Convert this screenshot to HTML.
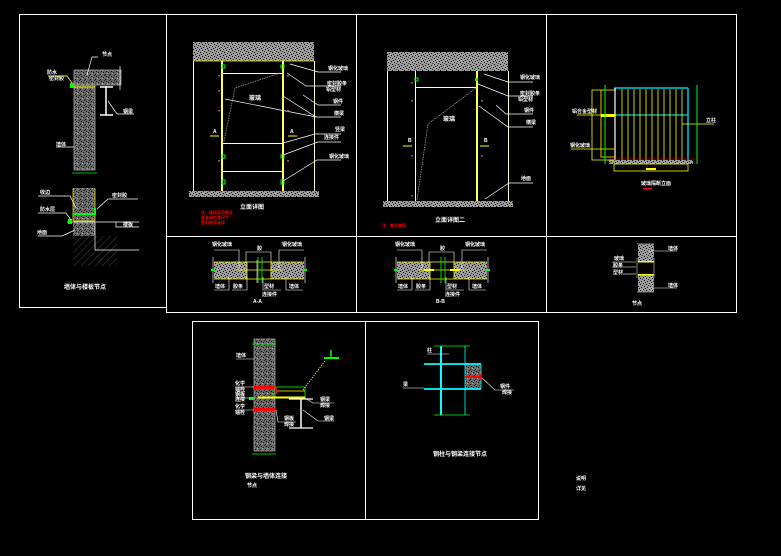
<!DOCTYPE html>
<html><head><meta charset="utf-8"><style>
html,body{margin:0;padding:0;background:#000;}
svg{display:block}
text{font-family:"Liberation Sans","Noto Sans CJK SC",sans-serif;fill:#fff;font-size:5px;font-weight:bold}
</style></head><body>
<svg width="781" height="556" viewBox="0 0 781 556" xmlns="http://www.w3.org/2000/svg">
<defs>
<pattern id="conc" width="6" height="6" patternUnits="userSpaceOnUse">
<rect width="6" height="6" fill="#9a9a9a"/>
<rect x="1" y="1" width="1" height="1" fill="#000"/><rect x="4" y="2" width="1" height="1" fill="#000"/>
<rect x="2" y="4" width="1" height="1" fill="#000"/><rect x="5" y="5" width="1" height="1" fill="#222"/>
<rect x="0" y="3" width="1" height="1" fill="#333"/><rect x="3" y="0" width="1" height="1" fill="#111"/>
</pattern>
<pattern id="dconc" width="5" height="5" patternUnits="userSpaceOnUse">
<rect width="5" height="5" fill="#666"/>
<rect x="1" y="1" width="1" height="1" fill="#000"/><rect x="3" y="2" width="1" height="1" fill="#111"/>
<rect x="0" y="4" width="1" height="1" fill="#000"/><rect x="4" y="0" width="1" height="1" fill="#222"/>
<rect x="2" y="3" width="1" height="1" fill="#aaa"/>
</pattern>
<pattern id="hatch" width="5" height="5" patternUnits="userSpaceOnUse" patternTransform="rotate(45)">
<rect width="5" height="5" fill="#000"/><line x1="0" y1="0" x2="0" y2="5" stroke="#666" stroke-width="0.7"/>
</pattern>
</defs>
<rect width="781" height="556" fill="#000"/>

<!-- panel borders -->
<g fill="none" stroke="#fff" stroke-width="1">
<rect x="19.5" y="14.5" width="147" height="293"/>
<rect x="166.5" y="14.5" width="570" height="222"/>
<line x1="356.5" y1="14" x2="356.5" y2="312"/>
<line x1="546.5" y1="14" x2="546.5" y2="312"/>
<rect x="166.5" y="236.5" width="570" height="76"/>
<rect x="192.5" y="321.5" width="346" height="198"/>
<line x1="365.5" y1="321" x2="365.5" y2="519"/>
</g>

<!-- Panel A -->
<rect x="74" y="70" width="47" height="15" fill="url(#dconc)" stroke="#bbb" stroke-width="0.7"/>
<rect x="74" y="85" width="21" height="85" fill="url(#dconc)" stroke="#bbb" stroke-width="0.7"/>
<line x1="74" y1="87" x2="95" y2="87" stroke="#ff0" stroke-width="1"/>
<line x1="48" y1="76" x2="67" y2="76" stroke="#ff0" stroke-width="1"/>
<polyline points="67,76 72,83 73,88" fill="none" stroke="#ff0" stroke-width="0.8"/>
<rect x="70" y="83" width="4" height="5" fill="#0f0"/>
<line x1="120" y1="66" x2="120" y2="90" stroke="#fff" stroke-width="0.7"/>
<line x1="106" y1="86" x2="106" y2="115" stroke="#fff" stroke-width="1.5"/>
<line x1="100" y1="115" x2="113" y2="115" stroke="#fff" stroke-width="1.5"/>
<line x1="100" y1="87" x2="113" y2="87" stroke="#fff" stroke-width="1.5"/>
<polyline points="98,57 92,57 87,75" fill="none" stroke="#fff" stroke-width="0.7"/>
<polyline points="108,101 117,114 134,114" fill="none" stroke="#fff" stroke-width="0.7"/>
<line x1="56" y1="147" x2="74" y2="147" stroke="#fff" stroke-width="0.7"/>
<line x1="72" y1="173" x2="97" y2="173" stroke="#0f0" stroke-width="0.8"/>
<text x="102" y="56">节点</text><text x="47" y="74">防水</text><text x="49" y="80">密封胶</text>
<text x="123" y="113">钢梁</text><text x="56" y="146">墙体</text>
<rect x="73" y="188" width="22" height="78" fill="url(#dconc)"/>
<rect x="73" y="236" width="22" height="30" fill="url(#hatch)"/>
<rect x="95" y="236" width="22" height="30" fill="url(#hatch)"/>
<line x1="73" y1="188" x2="73" y2="221" stroke="#ff0" stroke-width="0.7"/>
<line x1="95" y1="188" x2="95" y2="221" stroke="#ff0" stroke-width="0.7"/>
<polyline points="73,216 74,214 95,214 95,208" fill="none" stroke="#0f0" stroke-width="2"/>
<line x1="67" y1="222" x2="139" y2="222" stroke="#fff" stroke-width="0.7"/>
<line x1="74" y1="221" x2="95" y2="221" stroke="#ff0" stroke-width="0.7"/>
<polyline points="116,222 116,227 139,227" fill="none" stroke="#fff" stroke-width="0.7"/>
<polyline points="95,222 95,250 139,250" fill="none" stroke="#fff" stroke-width="0.7"/>
<rect x="68" y="219" width="4" height="5" fill="#0f0"/>
<polyline points="38,196 70,196 76,208" fill="none" stroke="#fff" stroke-width="0.7"/>
<polyline points="38,213 66,213 71,220" fill="none" stroke="#fff" stroke-width="0.7"/>
<polyline points="38,236 62,236 75,230" fill="none" stroke="#fff" stroke-width="0.7"/>
<polyline points="138,199 108,199 97,209" fill="none" stroke="#fff" stroke-width="0.7"/>
<text x="40" y="194">收边</text><text x="40" y="211">防水层</text><text x="37" y="234">地面</text>
<text x="112" y="197">密封胶</text><text x="123" y="226">楼板</text>
<text x="64" y="289" style="font-size:6px">墙体与楼板节点</text>

<!-- Panel 1 -->
<rect x="193" y="42" width="121" height="19" fill="url(#conc)"/>
<line x1="193" y1="61" x2="314" y2="61" stroke="#ff0" stroke-width="0.7"/>
<g stroke="#ffc" stroke-width="1"><line x1="193.5" y1="61" x2="193.5" y2="191"/><line x1="314.5" y1="61" x2="314.5" y2="191"/></g>
<g stroke="#ff6" stroke-width="2"><line x1="222" y1="61" x2="222" y2="191"/><line x1="283" y1="61" x2="283" y2="191"/></g>
<g stroke="#ffc" stroke-width="1"><line x1="222" y1="73.5" x2="283" y2="73.5"/><line x1="222" y1="143.5" x2="283" y2="143.5"/><line x1="222" y1="171.5" x2="283" y2="171.5"/></g>
<rect x="189" y="191" width="130" height="6" fill="url(#conc)"/>
<polyline points="224,141 235,88 280,73" fill="none" stroke="#999" stroke-width="0.8" stroke-dasharray="1.5,1"/>
<g fill="none" stroke="#0f0" stroke-width="1"><rect x="222" y="65" width="3" height="3"/><rect x="281" y="65" width="3" height="3"/><rect x="222" y="155" width="3" height="3"/><rect x="281" y="155" width="3" height="3"/><rect x="222" y="180" width="3" height="4"/><rect x="281" y="180" width="3" height="4"/></g>
<g stroke="#fff" stroke-width="0.7" fill="none">
<polyline points="290,64 318,72 341,72"/><polyline points="287,73 306,86 341,86"/><polyline points="303,95 318,105 341,105"/>
<polyline points="283,96 316,117 341,117"/><polyline points="225,99 316,117"/><polyline points="283,143 315,134 341,134"/>
<polyline points="283,155 318,142 341,142"/><polyline points="283,181 317,160 341,160"/>
</g>
<text x="328" y="70">钢化玻璃</text><text x="327" y="85">密封胶条</text><text x="326" y="91">铝型材</text><text x="333" y="103">钢件</text>
<text x="334" y="115">横梁</text><text x="335" y="131">竖梁</text><text x="324" y="139">连接件</text><text x="329" y="158">钢化玻璃</text>
<text x="249" y="100" style="font-size:6px">玻璃</text>
<line x1="210" y1="136" x2="219" y2="136" stroke="#ff0" stroke-width="1"/><line x1="288" y1="136" x2="297" y2="136" stroke="#ff0" stroke-width="1"/>
<text x="213" y="133">A</text><text x="290" y="133">A</text>
<text x="240" y="209" style="font-size:6px">立面详图</text>
<text x="201" y="214" style="fill:#f00;font-size:4px">注：玻璃采用钢化</text>
<text x="201" y="219" style="fill:#f00;font-size:4px">安装前检查尺寸</text>
<text x="201" y="224" style="fill:#f00;font-size:4px">密封胶须连续</text>
<g fill="#a05080"><rect x="218" y="75" width="2" height="1.5"/><rect x="218" y="90" width="2" height="1.5"/><rect x="218" y="110" width="2" height="1.5"/><rect x="218" y="160" width="2" height="1.5"/><rect x="287" y="75" width="2" height="1.5"/><rect x="287" y="110" width="2" height="1.5"/><rect x="287" y="160" width="2" height="1.5"/></g>

<!-- Panel 2 -->
<rect x="387" y="52" width="121" height="19" fill="url(#conc)"/>
<g stroke="#ffc" stroke-width="1"><line x1="387.5" y1="71" x2="387.5" y2="201"/><line x1="508.5" y1="71" x2="508.5" y2="201"/><line x1="415.5" y1="71" x2="415.5" y2="201"/><line x1="415" y1="87.5" x2="477" y2="87.5"/></g>
<line x1="477" y1="71" x2="477" y2="201" stroke="#ff6" stroke-width="2"/>
<rect x="383" y="201" width="130" height="6" fill="url(#conc)"/>
<polyline points="417,200 428,124 476,88" fill="none" stroke="#999" stroke-width="0.8" stroke-dasharray="1.5,1"/>
<rect x="415" y="78" width="3" height="3" fill="none" stroke="#0f0"/><rect x="475" y="78" width="3" height="3" fill="#0f0"/>
<g stroke="#fff" stroke-width="0.7" fill="none">
<polyline points="484,74 508,82 533,82"/><polyline points="478,84 508,96 533,96"/><polyline points="496,105 506,114 533,114"/>
<polyline points="479,106 508,127 533,127"/><polyline points="485,199 509,183 533,183"/>
</g>
<text x="520" y="79">钢化玻璃</text><text x="520" y="95">密封胶条</text><text x="518" y="101">铝型材</text><text x="524" y="112">钢件</text><text x="526" y="124">横梁</text><text x="521" y="180">地面</text>
<text x="443" y="121" style="font-size:6px">玻璃</text>
<line x1="403" y1="146" x2="412" y2="146" stroke="#ff0" stroke-width="1"/><line x1="480" y1="146" x2="489" y2="146" stroke="#ff0" stroke-width="1"/>
<text x="408" y="142">B</text><text x="484" y="142">B</text>
<text x="435" y="222" style="font-size:6px">立面详图二</text>
<text x="382" y="227" style="fill:#f00;font-size:4px">注：钢化玻璃</text>
<g fill="#a05080"><rect x="411" y="82" width="2" height="1.5"/><rect x="411" y="100" width="2" height="1.5"/><rect x="411" y="155" width="2" height="1.5"/><rect x="481" y="100" width="2" height="1.5"/><rect x="481" y="155" width="2" height="1.5"/><rect x="411" y="195" width="2" height="1.5"/></g>

<!-- Panel 4 -->
<rect x="609" y="160" width="84" height="4" fill="url(#conc)"/>
<line x1="614" y1="88" x2="688" y2="88" stroke="#0cc" stroke-width="1.5"/>
<line x1="688" y1="88" x2="688" y2="160" stroke="#0cc" stroke-width="1.5"/>
<line x1="614" y1="115" x2="688" y2="115" stroke="#0cc" stroke-width="1.2"/>
<line x1="615" y1="88" x2="615" y2="160" stroke="#fff" stroke-width="1.2"/>
<g stroke="#ff0" stroke-width="0.8">
<line x1="622" y1="89" x2="622" y2="160"/><line x1="628" y1="89" x2="628" y2="160"/><line x1="634" y1="89" x2="634" y2="160"/><line x1="640" y1="89" x2="640" y2="160"/><line x1="646" y1="89" x2="646" y2="160"/><line x1="652" y1="89" x2="652" y2="160"/><line x1="658" y1="89" x2="658" y2="160"/><line x1="664" y1="89" x2="664" y2="160"/><line x1="670" y1="89" x2="670" y2="160"/><line x1="676" y1="89" x2="676" y2="160"/><line x1="682" y1="89" x2="682" y2="160"/>
</g>
<g fill="none" stroke="#ff0" stroke-width="0.8">
<polyline points="616,90 592,90 592,160 615,160"/><polyline points="601,90 601,157 615,157"/>
<rect x="614" y="164" width="74" height="7"/>
</g>
<rect x="601" y="114" width="14" height="3" fill="#ff0"/>
<line x1="577" y1="115" x2="616" y2="115" stroke="#ff0" stroke-width="0.8"/>
<line x1="571" y1="149" x2="615" y2="149" stroke="#ff0" stroke-width="0.8"/>
<line x1="682" y1="124" x2="714" y2="124" stroke="#ff0" stroke-width="0.8"/>
<g stroke="#0f0" stroke-width="1"><line x1="605" y1="85" x2="605" y2="164"/><line x1="697" y1="85" x2="697" y2="164"/></g>
<line x1="609" y1="159" x2="697" y2="159" stroke="#f00" stroke-width="0.6"/>
<rect x="646" y="168" width="10" height="2" fill="#ff0"/>
<text x="572" y="113">铝合金型材</text><text x="570" y="147">钢化玻璃</text><text x="706" y="122">立柱</text>
<text x="641" y="185">玻璃隔断立面</text>
<rect x="643" y="188" width="9" height="1.5" fill="#f00"/>

<!-- Row 2 sections -->
<g id="s1">
<rect x="214" y="262" width="33" height="17" fill="url(#conc)"/>
<rect x="271" y="262" width="33" height="17" fill="url(#conc)"/>
<g stroke="#ff0" stroke-width="0.8">
<line x1="214" y1="262" x2="304" y2="262"/><line x1="214" y1="279" x2="304" y2="279"/><line x1="236" y1="270" x2="282" y2="270"/>
<line x1="247" y1="262" x2="247" y2="279"/><line x1="271" y1="262" x2="271" y2="279"/>
</g>
<g stroke="#0f0" stroke-width="0.8"><line x1="258" y1="257" x2="258" y2="283"/><line x1="262" y1="257" x2="262" y2="283"/></g>
<g stroke="#ccc" stroke-width="0.8"><line x1="213" y1="257" x2="213" y2="283"/><line x1="305" y1="257" x2="305" y2="283"/><line x1="257" y1="260" x2="257" y2="283"/></g>
<rect x="211" y="269" width="4" height="2" fill="#0f0"/><rect x="303" y="269" width="4" height="2" fill="#0f0"/>
<g stroke="#fff" stroke-width="0.6" fill="none"><polyline points="214,250 239,250 239,268"/><polyline points="246,262 246,252 271,252 271,262"/><polyline points="279,268 279,250 304,250"/>
<polyline points="214,290 229,290 229,277"/><polyline points="232,290 247,290 247,277"/><polyline points="263,277 263,290 281,290"/><polyline points="286,277 286,290 303,290"/></g>
<text x="212" y="246">钢化玻璃</text><text x="257" y="250">胶</text><text x="282" y="246">钢化玻璃</text>
<text x="215" y="288">墙体</text><text x="233" y="288">胶条</text><text x="264" y="288">型材</text><text x="289" y="288">墙体</text>
<text x="262" y="296">连接件</text><text x="253" y="303">A-A</text>
</g>
<g transform="translate(183,0)">
<rect x="214" y="262" width="33" height="17" fill="url(#conc)"/>
<rect x="271" y="262" width="33" height="17" fill="url(#conc)"/>
<g stroke="#ff0" stroke-width="0.8">
<line x1="214" y1="262" x2="304" y2="262"/><line x1="214" y1="279" x2="304" y2="279"/><line x1="236" y1="270" x2="282" y2="270"/>
<line x1="247" y1="262" x2="247" y2="279"/><line x1="271" y1="262" x2="271" y2="279"/>
</g>
<rect x="241" y="269" width="10" height="2" fill="#ff0"/><rect x="267" y="269" width="10" height="2" fill="#ff0"/>
<g stroke="#0f0" stroke-width="0.8"><line x1="258" y1="257" x2="258" y2="283"/><line x1="262" y1="257" x2="262" y2="283"/></g>
<g stroke="#ccc" stroke-width="0.8"><line x1="213" y1="257" x2="213" y2="283"/><line x1="305" y1="257" x2="305" y2="283"/></g>
<rect x="211" y="269" width="4" height="2" fill="#0f0"/><rect x="303" y="269" width="4" height="2" fill="#0f0"/>
<g stroke="#fff" stroke-width="0.6" fill="none"><polyline points="214,250 239,250 239,268"/><polyline points="246,262 246,252 271,252 271,262"/><polyline points="279,268 279,250 304,250"/>
<polyline points="214,290 229,290 229,277"/><polyline points="232,290 247,290 247,277"/><polyline points="263,277 263,290 281,290"/><polyline points="286,277 286,290 303,290"/></g>
<text x="212" y="246">钢化玻璃</text><text x="257" y="250">胶</text><text x="282" y="246">钢化玻璃</text>
<text x="215" y="288">墙体</text><text x="233" y="288">胶条</text><text x="264" y="288">型材</text><text x="289" y="288">墙体</text>
<text x="262" y="296">连接件</text><text x="253" y="303">B-B</text>
</g>
<!-- small section -->
<rect x="638" y="244" width="16" height="48" fill="url(#conc)"/>
<rect x="638" y="261" width="16" height="14" fill="#000"/>
<g stroke="#555" stroke-width="1.5"><line x1="637" y1="258" x2="637" y2="278"/><line x1="654" y1="258" x2="654" y2="278"/></g>
<rect x="638" y="261" width="16" height="1.5" fill="#ff0"/><rect x="638" y="274" width="16" height="1.5" fill="#ff0"/>
<line x1="637" y1="244" x2="654" y2="244" stroke="#888"/><line x1="637" y1="292" x2="654" y2="292" stroke="#888"/>
<g stroke="#fff" stroke-width="0.6"><line x1="649" y1="251" x2="677" y2="251"/><line x1="649" y1="288" x2="677" y2="288"/><line x1="612" y1="262" x2="636" y2="262"/><line x1="612" y1="267" x2="636" y2="267"/><line x1="623" y1="274" x2="636" y2="274"/></g>
<text x="668" y="250">墙体</text><text x="614" y="260">玻璃</text><text x="613" y="267">胶条</text><text x="613" y="274">型材</text><text x="668" y="287">墙体</text>
<text x="632" y="305">节点</text>

<!-- Bottom left -->
<rect x="254" y="339" width="21" height="112" fill="url(#dconc)" stroke="#ccc" stroke-width="0.6"/>
<line x1="252" y1="344" x2="276" y2="344" stroke="#0f0" stroke-width="0.8"/>
<line x1="252" y1="454" x2="276" y2="454" stroke="#0f0" stroke-width="0.8"/>
<rect x="254" y="386" width="21" height="3" fill="#f00"/><rect x="254" y="408" width="21" height="3" fill="#f00"/>
<rect x="253" y="385" width="2" height="5" fill="#f00"/><rect x="253" y="407" width="2" height="5" fill="#f00"/>
<rect x="275" y="387" width="30" height="11" fill="none" stroke="#0f0" stroke-width="0.8"/>
<line x1="276" y1="391" x2="305" y2="391" stroke="#ff0" stroke-width="0.8"/>
<line x1="258" y1="397.5" x2="305" y2="397.5" stroke="#ff0" stroke-width="2"/>
<rect x="275" y="388" width="2" height="6" fill="#f00"/>
<line x1="289" y1="399" x2="313" y2="399" stroke="#fff" stroke-width="1.2"/>
<line x1="301" y1="399" x2="301" y2="428" stroke="#fff" stroke-width="1.5"/>
<line x1="289" y1="428" x2="313" y2="428" stroke="#fff" stroke-width="1.2"/>
<polyline points="303,390 325,361" fill="none" stroke="#ff0" stroke-width="0.8" stroke-dasharray="1.5,1"/>
<line x1="324" y1="358" x2="339" y2="358" stroke="#0f0" stroke-width="2"/><line x1="331" y1="350" x2="331" y2="358" stroke="#0f0" stroke-width="1.5"/>
<rect x="249" y="397" width="5" height="3" fill="#0f0"/>
<g stroke="#fff" stroke-width="0.6" fill="none"><line x1="236" y1="359" x2="254" y2="359"/><polyline points="305,398 313,403 334,403"/><polyline points="303,410 318,421 334,421"/><polyline points="276,410 278,422 296,422"/>
<line x1="236" y1="387" x2="254" y2="387"/><line x1="236" y1="398" x2="250" y2="398"/><line x1="236" y1="410" x2="254" y2="410"/></g>
<text x="236" y="357">墙体</text><text x="235" y="385">化学</text><text x="235" y="391">锚栓</text><text x="235" y="396">钢板</text><text x="235" y="401">连接</text><text x="235" y="408">化学</text><text x="235" y="414">锚栓</text>
<text x="320" y="401">钢梁</text><text x="320" y="407">焊接</text><text x="324" y="420">钢梁</text><text x="284" y="420">钢板</text><text x="284" y="426">焊接</text>
<text x="245" y="478" style="font-size:6px">钢梁与墙体连接</text><text x="247" y="487">节点</text>

<!-- Bottom right -->
<rect x="465" y="364" width="16" height="25" fill="url(#dconc)"/>
<g stroke="#0ff"><line x1="441" y1="346" x2="441" y2="415" stroke-width="2"/><line x1="465" y1="346" x2="465" y2="415" stroke-width="0.8"/>
<line x1="424" y1="364" x2="481" y2="364" stroke-width="1.8"/><line x1="424" y1="389" x2="481" y2="389" stroke-width="1.8"/><line x1="481" y1="364" x2="481" y2="389" stroke-width="0.8"/></g>
<g stroke="#0f0" stroke-width="0.8"><line x1="434" y1="346" x2="470" y2="346"/><line x1="434" y1="415" x2="470" y2="415"/></g>
<rect x="465" y="376" width="16" height="2" fill="#f00"/><rect x="479" y="374" width="3" height="5" fill="#f00"/>
<g stroke="#fff" stroke-width="0.6" fill="none"><line x1="427" y1="354" x2="449" y2="354"/><line x1="403" y1="388" x2="424" y2="388"/><polyline points="482,378 495,390 514,390"/></g>
<text x="427" y="352">柱</text><text x="403" y="386">梁</text><text x="500" y="388">钢件</text><text x="502" y="394">焊接</text>
<text x="433" y="456" style="font-size:6px">钢柱与钢梁连接节点</text>

<text x="576" y="480">说明</text><text x="576" y="490">详见</text>
</svg>
</body></html>
